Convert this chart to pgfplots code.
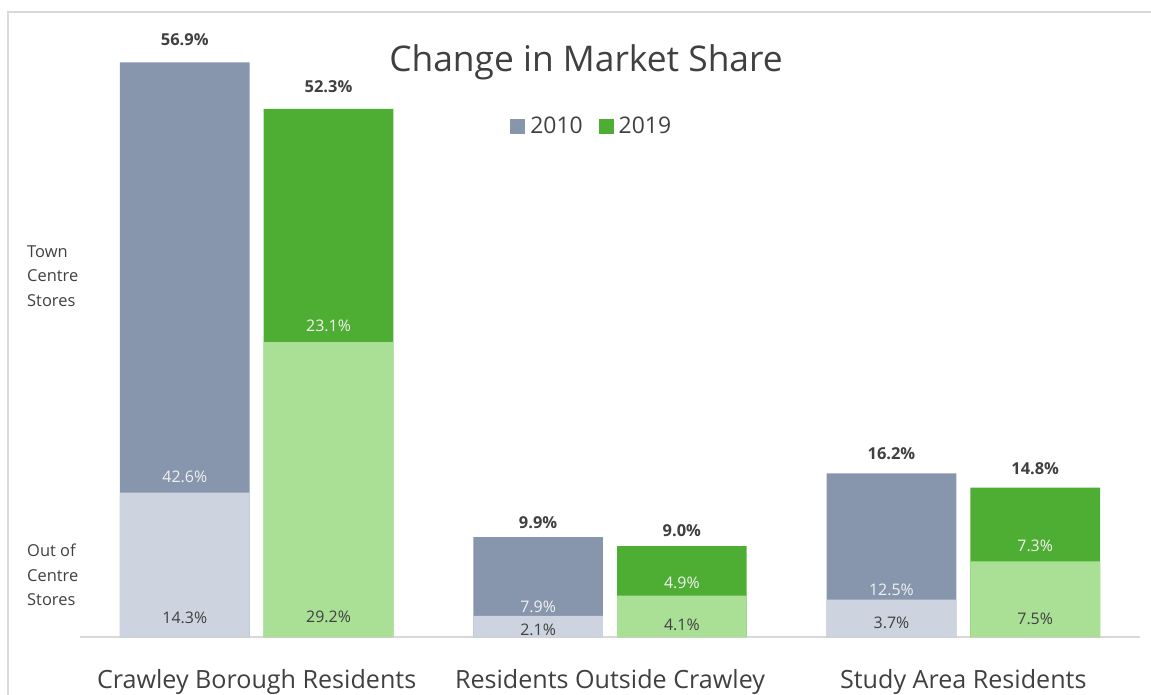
\documentclass[border=0pt]{standalone}
\usepackage{pgfplots}
\pgfplotsset{compat=1.18}
\usepackage{fontspec}
\setmainfont{Open Sans}

\definecolor{darkA}{HTML}{8795AD}
\definecolor{lightA}{HTML}{CDD4DF}
\definecolor{darkB}{HTML}{4EAE33}
\definecolor{lightB}{HTML}{A9E096}
\definecolor{txt}{HTML}{404040}
\definecolor{rule}{HTML}{D9D9D9}

\newcommand{\pct}{\pgfmathprintnumber[fixed,zerofill,precision=1,assume math mode=true]{\pgfplotspointmeta}\%}

\begin{document}
\begin{tikzpicture}[x=1bp,y=1bp]
\useasboundingbox (0,0) rectangle (1151,-695);
\draw[rule, line width=1.5bp] (8,-695) -- (8,-12) -- (1151,-12);

\begin{axis}[
    at={(80bp,-637bp)}, anchor=south west,
    scale only axis, width=1060bp, height=606bp,
    xmin=-0.5, xmax=2.5, ymin=0, ymax=60,
    axis y line=none, axis x line*=bottom,
    x axis line style={draw=rule, line width=1.5bp},
    xtick={0,1,2},
    xticklabels={Crawley Borough Residents, Residents Outside Crawley, Study Area Residents},
    major tick length=0pt,
    xticklabel style={font=\fontsize{25.2}{29}\selectfont, text=txt, anchor=base, yshift=-51bp},
    clip=false,
    legend style={at={(0.403,0.843)}, anchor=west, draw=none, fill=none,
        legend columns=2, font=\fontsize{23}{27}\selectfont, text=txt,
        /tikz/every odd column/.append style={column sep=3bp},
        /tikz/every even column/.append style={column sep=14bp}},
    legend image code/.code={\fill[#1, draw=none] (0bp,-7.5bp) rectangle (15bp,7.5bp);},
    every node near coord/.append style={anchor=center},
]
% totals, 2010
\addplot[ybar, bar width=0.367, bar shift=0pt, fill=darkA, draw=none, forget plot]
    coordinates {(-0.2034,56.9) (0.7966,9.9) (1.7966,16.2)};
% out of centre, 2010
\addplot[ybar, bar width=0.367, bar shift=0pt, fill=lightA, draw=none, forget plot]
    coordinates {(-0.2034,14.3) (0.7966,2.1) (1.7966,3.7)};
% totals, 2019
\addplot[ybar, bar width=0.367, bar shift=0pt, fill=darkB, draw=none, forget plot]
    coordinates {(0.2034,52.3) (1.2034,9.0) (2.2034,14.8)};
% out of centre, 2019
\addplot[ybar, bar width=0.367, bar shift=0pt, fill=lightB, draw=none, forget plot]
    coordinates {(0.2034,29.2) (1.2034,4.1) (2.2034,7.5)};

% labels: totals
\addplot[draw=none, mark=none, forget plot, point meta=explicit,
    nodes near coords={\pct},
    every node near coord/.append style={font=\fontsize{16.5}{20}\selectfont\bfseries, text=txt}]
    coordinates {(-0.2034,59.1) [56.9] (0.2034,54.5) [52.3] (0.7966,11.34) [9.9]
                 (1.2034,10.5) [9.0] (1.7966,18.17) [16.2] (2.2034,16.68) [14.8]};
% labels: town centre stores
\addplot[draw=none, mark=none, forget plot, point meta=explicit,
    nodes near coords={\pct},
    every node near coord/.append style={font=\fontsize{16}{19}\selectfont, text=white!95!black}]
    coordinates {(-0.2034,15.84) [42.6] (0.2034,30.79) [23.1] (0.7966,3.02) [7.9]
                 (1.2034,5.35) [4.9] (1.7966,4.70) [12.5] (2.2034,9.06) [7.3]};
% labels: out of centre stores
\addplot[draw=none, mark=none, forget plot, point meta=explicit,
    nodes near coords={\pct},
    every node near coord/.append style={font=\fontsize{16}{19}\selectfont, text=txt}]
    coordinates {(-0.2034,1.9) [14.3] (0.2034,1.95) [29.2] (0.7966,0.7) [2.1]
                 (1.2034,1.19) [4.1] (1.7966,1.39) [3.7] (2.2034,1.83) [7.5]};

\addlegendimage{fill=darkA}
\addlegendentry{2010}
\addlegendimage{fill=darkB}
\addlegendentry{2019}
\end{axis}

\node[text=txt, font=\fontsize{35.5}{42}\selectfont] at (586,-62) {Change in Market Share};
\node[text=txt, font=\fontsize{16.5}{24.5}\selectfont, align=left, anchor=west, inner sep=0pt]
    at (27,-276) {Town\\Centre\\Stores};
\node[text=txt, font=\fontsize{16.5}{24.5}\selectfont, align=left, anchor=west, inner sep=0pt]
    at (27,-575) {Out of\\Centre\\Stores};
\end{tikzpicture}
\end{document}
